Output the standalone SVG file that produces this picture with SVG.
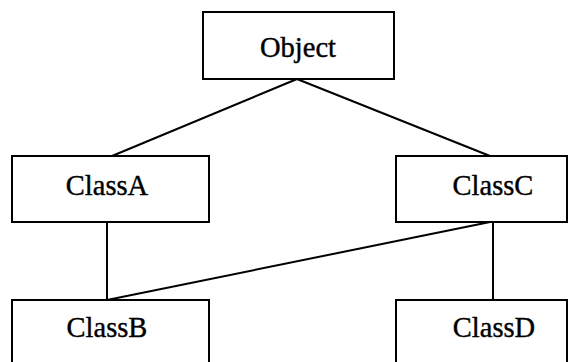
<svg xmlns="http://www.w3.org/2000/svg" width="579" height="362" viewBox="0 0 579 362">
<style>
.box{fill:#fff;stroke:#000;stroke-width:2}
.lbl{font-family:"Liberation Serif","Times New Roman",serif;font-size:28.5px;text-anchor:middle;fill:#000;stroke:#000;stroke-width:0.4}
.conn{stroke:#000;stroke-width:2;fill:none}
</style>
<rect width="579" height="362" fill="#fff"/>
<g id="connectors">
<line class="conn" x1="297" y1="79" x2="112" y2="156"/>
<line class="conn" x1="297" y1="79" x2="490" y2="156"/>
<line class="conn" x1="107" y1="222" x2="107" y2="300"/>
<line class="conn" x1="493" y1="222" x2="493" y2="300"/>
<line class="conn" x1="490" y1="222" x2="107" y2="300"/>
</g>
<g id="Object"><rect class="box" x="203" y="12" width="191" height="67"/><text class="lbl" x="298" y="57">Object</text></g>
<g id="ClassA"><rect class="box" x="12" y="156" width="197" height="66"/><text class="lbl" x="107" y="195">ClassA</text></g>
<g id="ClassC"><rect class="box" x="396" y="156" width="171" height="66"/><text class="lbl" x="493" y="195">ClassC</text></g>
<g id="ClassB"><rect class="box" x="12" y="300" width="197" height="70"/><text class="lbl" x="107" y="337">ClassB</text></g>
<g id="ClassD"><rect class="box" x="396" y="300" width="171" height="70"/><text class="lbl" x="494" y="337">ClassD</text></g>
</svg>
